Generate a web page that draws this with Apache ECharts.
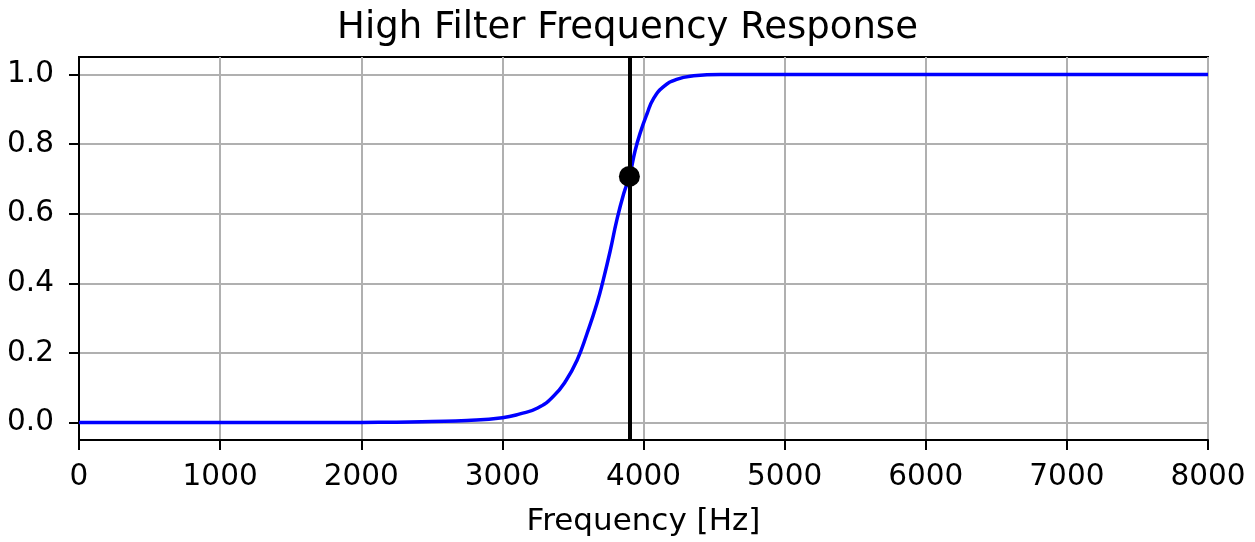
<!DOCTYPE html>
<html>
<head>
<meta charset="utf-8">
<script src="https://cdn.jsdelivr.net/npm/echarts@6/dist/echarts.min.js"></script>
<style>
	html, body { margin: 0; padding: 0; background: #fff; }
	#chart { width: 1255px; height: 542px; }
</style>
</head>
<body>
<div id="chart"></div>
<script>
// Values
const freqHz = [ 0, 500, 1000, 1500, 2000, 2250, 2500, 2750, 3000, 3125, 3250, 3360, 3450,
	3530, 3600, 3670, 3715, 3765, 3810, 3860, 3900, 3940, 3975, 4025, 4070, 4140, 4235,
	4355, 4545, 5000, 6000, 7000, 8000 ];
const gain = [ 0, 0, 0, 0, 0.0005, 0.001, 0.003, 0.006, 0.014, 0.025, 0.042, 0.075, 0.12,
	0.18, 0.256, 0.342, 0.41, 0.495, 0.58, 0.658, 0.707, 0.78, 0.83, 0.887, 0.93, 0.964, 0.986,
	0.996, 1.0, 1.0, 1.0, 1.0, 1.0 ];
const cutoff = [ 3900, 0.707 ];
const yTicks = [ 0, 0.2, 0.4, 0.6, 0.8, 1.0 ];

const FONT = 'DejaVu Sans';
const chart = echarts.init( document.getElementById( 'chart' ), null, { renderer: 'canvas' } );

chart.setOption( {
	animation: false,
	backgroundColor: '#fff',
	title: {
		text: 'High Filter Frequency Response',
		left: 'center',
		top: 5,
		textStyle: { fontFamily: FONT, fontSize: 37, fontWeight: 'normal', color: '#000' }
	},
	grid: {
		left: 79,
		right: 47,
		top: 57,
		bottom: 102,
		show: true,
		borderColor: '#000',
		borderWidth: 2
	},
	xAxis: {
		type: 'value',
		min: 0,
		max: 8000,
		interval: 1000,
		name: 'Frequency [Hz]',
		nameLocation: 'middle',
		nameGap: 66,
		nameTextStyle: { fontFamily: FONT, fontSize: 31, color: '#000' },
		axisLine: { onZero: false, lineStyle: { color: '#000', width: 2 } },
		axisTick: { length: 10, lineStyle: { color: '#000', width: 2 } },
		axisLabel: {
			fontFamily: FONT, fontSize: 29.5, color: '#000', margin: 22,
			showMinLabel: true, showMaxLabel: true,
			formatter: ( v ) => String( v )
		},
		splitLine: { show: true, lineStyle: { color: '#b0b0b0', width: 2 } }
	},
	yAxis: {
		type: 'value',
		min: -0.05,
		max: 1.05,
		axisLine: { show: true, onZero: false, lineStyle: { color: '#000', width: 2 } },
		axisTick: { show: true, length: 10, customValues: yTicks, lineStyle: { color: '#000', width: 2 } },
		axisLabel: {
			fontFamily: FONT, fontSize: 29.5, color: '#000', margin: 25,
			customValues: yTicks,
			formatter: ( v ) => v.toFixed( 1 )
		},
		splitLine: { show: true, lineStyle: { color: '#b0b0b0', width: 2 } }
	},
	series: [
		{
			type: 'line',
			data: freqHz.map( ( f, i ) => [ f, gain[ i ] ] ),
			showSymbol: false,
			smooth: 0.5,
			lineStyle: { color: '#0000ff', width: 3.5 },
			markLine: {
				silent: true,
				symbol: 'none',
				label: { show: false },
				lineStyle: { color: '#000', width: 4, type: 'solid' },
				data: [ { xAxis: cutoff[ 0 ] } ]
			},
			z: 3
		},
		{
			type: 'scatter',
			data: [ cutoff ],
			symbol: 'circle',
			symbolSize: 21,
			itemStyle: { color: '#000', opacity: 1 },
			z: 5
		}
	]
} );
</script>
</body>
</html>
